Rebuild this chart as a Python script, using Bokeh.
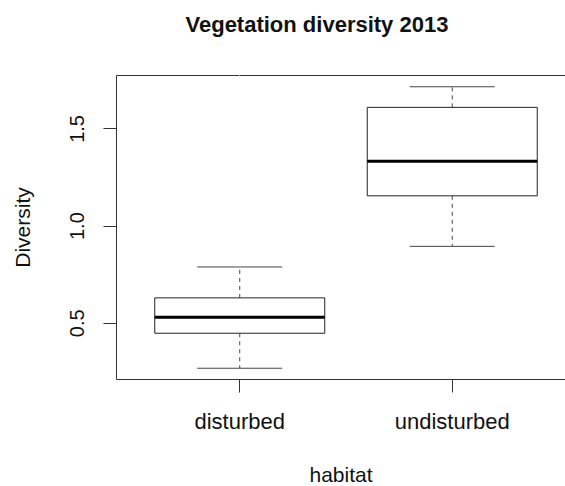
from bokeh.plotting import figure
from bokeh.models import Range1d, FixedTicker, LinearAxis, Title
from bokeh.embed import file_html
from bokeh.resources import INLINE

# ---- data ----
habitat = ["disturbed", "undisturbed"]
whisker_low = [0.269, 0.896]
q1 = [0.449, 1.156]
median = [0.531, 1.334]
q3 = [0.631, 1.611]
whisker_high = [0.790, 1.717]
y_ticks = [0.5, 1.0, 1.5]
y_tick_labels = ["0.5", "1.0", "1.5"]
title_text = "Vegetation diversity 2013"
x_title = "habitat"
y_title = "Diversity"

# ---- derived positions ----
pos = list(range(1, len(habitat) + 1))
box_w = 0.8
cap_w = 0.4
lo, hi = min(whisker_low), max(whisker_high)
pad = 0.04 * (hi - lo)
y_start, y_end = lo - pad, hi + pad
x_start = 0.5 - 0.04 * len(habitat)
x_end = 2.533  # reference is cropped on the right

FONT = "Liberation Sans"
EDGE = "#333333"

p = figure(output_backend="svg", toolbar_location=None,
           x_range=Range1d(x_start, x_end), y_range=Range1d(y_start, y_end),
           frame_width=449, frame_height=304,
           min_border_left=116, min_border_right=0,
           min_border_top=75, min_border_bottom=107)
p.background_fill_color = "white"
p.border_fill_color = "white"
p.outline_line_color = None
p.xgrid.grid_line_color = None
p.ygrid.grid_line_color = None

xa = p.below[0]
ya = p.left[0]

# boxes
p.vbar(x=pos, top=q3, bottom=q1, width=box_w, fill_color="white",
       line_color="#222222", line_width=1)
# medians
p.segment(x0=[x - box_w / 2 for x in pos], x1=[x + box_w / 2 for x in pos],
          y0=median, y1=median, line_color="black", line_width=3)
# whiskers (dashed)
p.segment(x0=pos, x1=pos, y0=q3, y1=whisker_high, line_color="#444444",
          line_width=1, line_dash="4 4")
p.segment(x0=pos, x1=pos, y0=q1, y1=whisker_low, line_color="#444444",
          line_width=1, line_dash="4 4")
# staples
p.segment(x0=[x - cap_w / 2 for x in pos], x1=[x + cap_w / 2 for x in pos],
          y0=whisker_high, y1=whisker_high, line_color="#444444", line_width=1)
p.segment(x0=[x - cap_w / 2 for x in pos], x1=[x + cap_w / 2 for x in pos],
          y0=whisker_low, y1=whisker_low, line_color="#444444", line_width=1)

# axes
xa.ticker = FixedTicker(ticks=pos)
xa.major_label_overrides = {x: h for x, h in zip(pos, habitat)}
xa.minor_tick_line_color = None
xa.major_tick_in = 0
xa.major_tick_out = 13
xa.major_tick_line_color = EDGE
xa.axis_line_color = EDGE
xa.major_label_text_font = FONT
xa.major_label_text_font_size = "22px"
xa.major_label_text_color = "#111111"
xa.major_label_standoff = 16
xa.axis_label = x_title
xa.axis_label_text_font = FONT
xa.axis_label_text_font_size = "21px"
xa.axis_label_text_font_style = "normal"
xa.axis_label_text_color = "#111111"
xa.axis_label_standoff = 26

ya.ticker = FixedTicker(ticks=y_ticks)
ya.major_label_overrides = {t: s for t, s in zip(y_ticks, y_tick_labels)}
ya.minor_tick_line_color = None
ya.major_tick_in = 0
ya.major_tick_out = 13
ya.major_tick_line_color = EDGE
ya.axis_line_color = EDGE
ya.major_label_orientation = "vertical"
ya.major_label_text_font = FONT
ya.major_label_text_font_size = "20px"
ya.major_label_text_color = "#111111"
ya.major_label_standoff = 19
ya.axis_label = y_title
ya.axis_label_text_font = FONT
ya.axis_label_text_font_size = "21px"
ya.axis_label_text_font_style = "normal"
ya.axis_label_text_color = "#111111"
ya.axis_label_standoff = 34

# top border: a blank axis above (its white tick spaces the title away from the frame)
top = LinearAxis(ticker=FixedTicker(ticks=[pos[0]]), axis_line_color=EDGE,
                 major_tick_out=39, major_tick_in=0,
                 major_tick_line_color="white", minor_tick_line_color=None,
                 major_label_standoff=0, major_label_text_font_size="1px",
                 major_label_overrides={pos[0]: ""})
p.add_layout(top, "above")

t = Title(text=title_text, align="left", offset=69, standoff=0,
          text_font=FONT, text_font_size="22px", text_font_style="bold",
          text_color="#111111")
p.add_layout(t, "above")

open("out.html", "w").write(file_html(p, INLINE))
